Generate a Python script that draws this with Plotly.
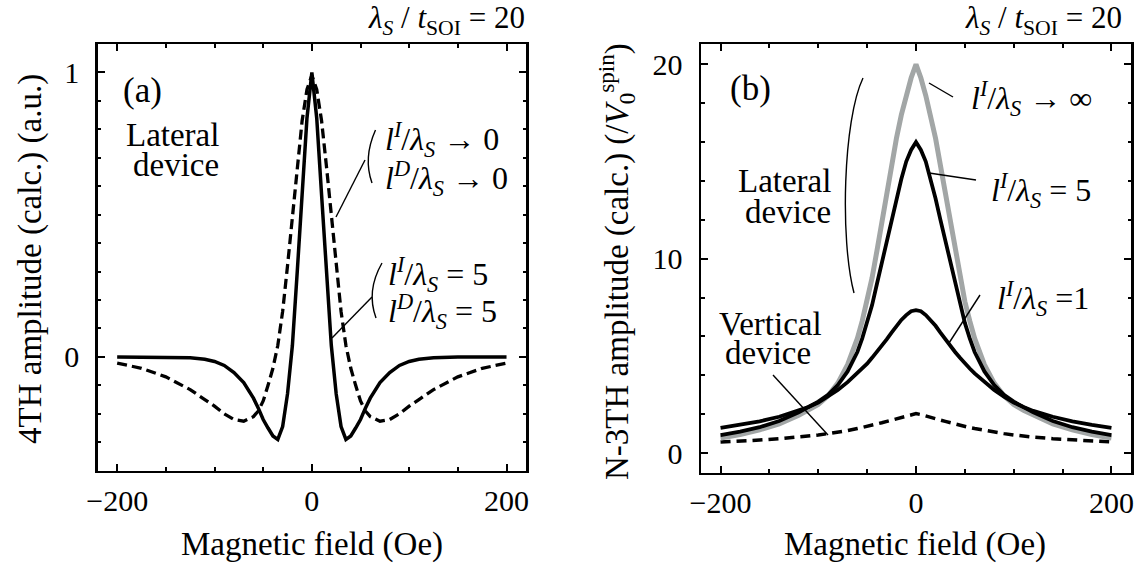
import plotly.graph_objects as go

# ---------------- data : panel (a) ----------------
xa = [-200, -175, -150, -125, -110, -100, -90, -80, -70, -60, -55, -50, -45, -40, -35, -30, -25, -20, -15, -10, -5, 0,
      5, 10, 15, 20, 25, 30, 35, 40, 45, 50, 55, 60, 70, 80, 90, 100, 110, 125, 150, 175, 200]
a_solid = [0.0, 0.0, 0.0, -0.003, -0.008, -0.016, -0.03, -0.055, -0.09, -0.145, -0.18, -0.22, -0.25, -0.278, -0.29,
           -0.245, -0.13, 0.04, 0.30, 0.57, 0.84, 1.0,
           0.84, 0.57, 0.30, 0.04, -0.13, -0.245, -0.29, -0.278, -0.25, -0.22, -0.18, -0.145, -0.09, -0.055, -0.03,
           -0.016, -0.008, -0.003, 0.0, 0.0, 0.0]
a_dash = [-0.022, -0.04, -0.07, -0.115, -0.15, -0.173, -0.2, -0.22, -0.226, -0.21, -0.19, -0.155, -0.10, -0.04, 0.04,
          0.16, 0.32, 0.49, 0.67, 0.83, 0.94, 0.99,
          0.94, 0.83, 0.67, 0.49, 0.32, 0.16, 0.04, -0.04, -0.10, -0.155, -0.19, -0.21, -0.226, -0.22, -0.2, -0.173,
          -0.15, -0.115, -0.07, -0.04, -0.022]

# ---------------- data : panel (b) ----------------
xb = [-200, -180, -160, -140, -120, -110, -100, -90, -80, -70, -60, -55, -50, -45, -40, -35, -30, -25, -20, -15, -10,
      -5, 0, 5, 10, 15, 20, 25, 30, 35, 40, 45, 50, 55, 60, 70, 80, 90, 100, 110, 120, 140, 160, 180, 200]
b_inf = [0.78, 0.95, 1.2, 1.5, 1.95, 2.2, 2.5, 2.95, 3.6, 4.55, 5.9, 6.8, 7.8, 9.0, 10.4, 11.9, 13.4, 14.8, 16.2, 17.4,
         18.4, 19.3, 20.0, 19.3, 18.4, 17.4, 16.2, 14.8, 13.4, 11.9, 10.4, 9.0, 7.8, 6.8, 5.9, 4.55, 3.6, 2.95, 2.5,
         2.2, 1.95, 1.5, 1.2, 0.95, 0.78]
b_l5 = [0.92, 1.1, 1.33, 1.65, 2.1, 2.36, 2.65, 3.0, 3.5, 4.2, 5.2, 5.9, 6.7, 7.6, 8.7, 9.8, 10.9, 12.0, 13.1, 14.1,
        15.0, 15.6, 16.0, 15.6, 15.0, 14.1, 13.1, 12.0, 10.9, 9.8, 8.7, 7.6, 6.7, 5.9, 5.2, 4.2, 3.5, 3.0, 2.65, 2.36,
        2.1, 1.65, 1.33, 1.1, 0.92]
b_l1 = [1.3, 1.45, 1.63, 1.87, 2.17, 2.37, 2.6, 2.9, 3.25, 3.65, 4.1, 4.35, 4.6, 4.9, 5.2, 5.52, 5.85, 6.2, 6.55, 6.85,
        7.1, 7.3, 7.35, 7.3, 7.1, 6.85, 6.55, 6.2, 5.85, 5.52, 5.2, 4.9, 4.6, 4.35, 4.1, 3.65, 3.25, 2.9, 2.6, 2.37,
        2.17, 1.87, 1.63, 1.45, 1.3]
b_vert = [0.57, 0.61, 0.67, 0.74, 0.82, 0.87, 0.93, 1.0, 1.07, 1.16, 1.26, 1.31, 1.37, 1.43, 1.5, 1.56, 1.63, 1.7,
          1.78, 1.85, 1.92, 1.98, 2.03, 1.98, 1.92, 1.85, 1.78, 1.7, 1.63, 1.56, 1.5, 1.43, 1.37, 1.31, 1.26, 1.16,
          1.07, 1.0, 0.93, 0.87, 0.82, 0.74, 0.67, 0.61, 0.57]

xtick_vals = [-200, 0, 200]
ya_tick_vals = [0, 1]
yb_tick_vals = [0, 10, 20]

# ---------------- layout helpers ----------------
W, H = 1141, 565
FONT = "Liberation Serif, Times New Roman, serif"
A_BOX = (97.7, 526.0, 44.0, 470.7)   # left, right, top, bottom (px)
B_BOX = (701.0, 1131.0, 44.0, 472.5)


def P(x, y):
    return x / W, 1 - y / H


def path(cmd):
    out = []
    for letter, pts in cmd:
        coords = " ".join("%.5f,%.5f" % P(x, y) for x, y in pts)
        out.append(letter + " " + coords)
    return " ".join(out)


fig = go.Figure()
fig.add_trace(go.Scatter(x=xa, y=a_dash, mode="lines", line=dict(color="black", width=3.3, dash="10px,5px"),
                         xaxis="x", yaxis="y", showlegend=False, hoverinfo="skip"))
fig.add_trace(go.Scatter(x=xa, y=a_solid, mode="lines", line=dict(color="black", width=3.5),
                         xaxis="x", yaxis="y", showlegend=False, hoverinfo="skip"))
fig.add_trace(go.Scatter(x=xb, y=b_vert, mode="lines", line=dict(color="black", width=3.5, dash="10px,6px"),
                         xaxis="x2", yaxis="y2", showlegend=False, hoverinfo="skip"))
fig.add_trace(go.Scatter(x=xb, y=b_inf, mode="lines", line=dict(color="#a2a6a6", width=5),
                         xaxis="x2", yaxis="y2", showlegend=False, hoverinfo="skip"))
fig.add_trace(go.Scatter(x=xb, y=b_l1, mode="lines", line=dict(color="black", width=3.8),
                         xaxis="x2", yaxis="y2", showlegend=False, hoverinfo="skip"))
fig.add_trace(go.Scatter(x=xb, y=b_l5, mode="lines", line=dict(color="black", width=3.8),
                         xaxis="x2", yaxis="y2", showlegend=False, hoverinfo="skip"))


def xaxis_cfg(box, anchor):
    return dict(domain=[box[0] / W, box[1] / W], range=[-220, 220], anchor=anchor,
                tickmode="array", tickvals=xtick_vals, ticks="inside", ticklen=7, tickwidth=2,
                tickcolor="black", showline=True, linecolor="black", linewidth=2.5, mirror="allticks",
                showgrid=False, zeroline=False, automargin=False, ticklabelstandoff=2,
                tickfont=dict(family=FONT, size=30, color="black"),
                minor=dict(tickmode="linear", tick0=0, dtick=50, ticks="inside", ticklen=3.5, tickwidth=2,
                           tickcolor="black", showgrid=False))


def yaxis_cfg(box, anchor, rng, vals, mdt):
    return dict(domain=[1 - box[3] / H, 1 - box[2] / H], range=rng, anchor=anchor,
                tickmode="array", tickvals=vals, ticks="inside", ticklen=7, tickwidth=2,
                tickcolor="black", showline=True, linecolor="black", linewidth=2.5, mirror="allticks",
                showgrid=False, zeroline=False, automargin=False, ticklabelstandoff=10,
                tickfont=dict(family=FONT, size=30, color="black"),
                minor=dict(tickmode="linear", tick0=0, dtick=mdt, ticks="inside", ticklen=3.5, tickwidth=2,
                           tickcolor="black", showgrid=False))


anns = []


def ann(text, x, y, size=30, xanchor="center", yanchor="middle", angle=0):
    px_, py_ = P(x, y)
    anns.append(dict(text=text, x=px_, y=py_, xref="paper", yref="paper", xanchor=xanchor, yanchor=yanchor,
                     showarrow=False, textangle=angle, font=dict(family=FONT, size=size, color="black")))


title_txt = "<i>λ</i><sub><i>S</i></sub> / <i>t</i><sub>SOI</sub> = 20"
ann(title_txt, 527, 20, 31, xanchor="right")
ann(title_txt, 1124, 20, 31, xanchor="right")

# panel (a) texts
ann("(a)", 142, 90, 35)
ann("Lateral", 221, 135, 33, xanchor="right")
ann("device", 221, 165, 33, xanchor="right")
ann("<i>l</i><sup><i>I</i></sup>/<i>λ</i><sub><i>S</i></sub> → 0", 383, 139, 32, xanchor="left")
ann("<i>l</i><sup><i>D</i></sup>/<i>λ</i><sub><i>S</i></sub> → 0", 383, 178, 32, xanchor="left")
ann("<i>l</i><sup><i>I</i></sup>/<i>λ</i><sub><i>S</i></sub> = 5", 386, 274, 32, xanchor="left")
ann("<i>l</i><sup><i>D</i></sup>/<i>λ</i><sub><i>S</i></sub> = 5", 386, 311, 32, xanchor="left")

# panel (b) texts
ann("(b)", 750, 88, 35)
ann("Lateral", 833, 181, 33, xanchor="right")
ann("device", 833, 212, 33, xanchor="right")
ann("<i>l</i><sup><i>I</i></sup>/<i>λ</i><sub><i>S</i></sub> → ∞", 969, 98, 32, xanchor="left")
ann("<i>l</i><sup><i>I</i></sup>/<i>λ</i><sub><i>S</i></sub> = 5", 989, 190, 32, xanchor="left")
ann("<i>l</i><sup><i>I</i></sup>/<i>λ</i><sub><i>S</i></sub> =1", 995, 298, 32, xanchor="left")
ann("Vertical", 770, 324, 33)
ann("device", 768, 353, 33)

# axis titles
ann("Magnetic field (Oe)", 312, 544, 33)
ann("Magnetic field (Oe)", 915, 544, 33)
ann("4TH amplitude (calc.) (a.u.)", 30, 259, 33, angle=-90)
ann("N-3TH amplitude (calc.) (/<i>V</i><sub>0</sub><sup>spin</sup>)", 616, 262, 33, angle=-90)

shapes = []


def seg(x0, y0, x1, y1, w=1.4):
    a0, b0 = P(x0, y0)
    a1, b1 = P(x1, y1)
    shapes.append(dict(type="line", xref="paper", yref="paper", x0=a0, y0=b0, x1=a1, y1=b1,
                       line=dict(color="black", width=w)))


def curve(cmd, w=1.4):
    shapes.append(dict(type="path", xref="paper", yref="paper", path=path(cmd),
                       line=dict(color="black", width=w)))


# leader lines (a)
seg(365, 160, 336, 217)
seg(372, 297, 332, 338)
curve([("M", [(375.5, 130)]), ("Q", [(363, 158), (372, 183)])])
curve([("M", [(382, 263)]), ("Q", [(366, 291), (376, 318)])])
# leader lines (b)
seg(929, 83, 953, 97)
seg(929, 173, 976, 180)
seg(949, 343, 980, 295)
seg(773, 375, 828, 435)
curve([("M", [(863, 78)]), ("C", [(843, 120), (840, 240), (854, 293)])])

fig.update_layout(
    width=W, height=H, autosize=False, template="none",
    margin=dict(l=0, r=0, t=0, b=0, pad=0),
    paper_bgcolor="white", plot_bgcolor="white",
    xaxis=xaxis_cfg(A_BOX, "y"),
    yaxis=yaxis_cfg(A_BOX, "x", [-0.4, 1.1], ya_tick_vals, 0.1),
    xaxis2=xaxis_cfg(B_BOX, "y2"),
    yaxis2=yaxis_cfg(B_BOX, "x2", [-1.0, 21.05], yb_tick_vals, 2),
    annotations=anns, shapes=shapes, showlegend=False, hovermode=False,
)

fig.write_html("out.html", config={"displayModeBar": False, "staticPlot": True},
               post_script="document.body.style.margin='0px';document.body.style.overflow='hidden';")
